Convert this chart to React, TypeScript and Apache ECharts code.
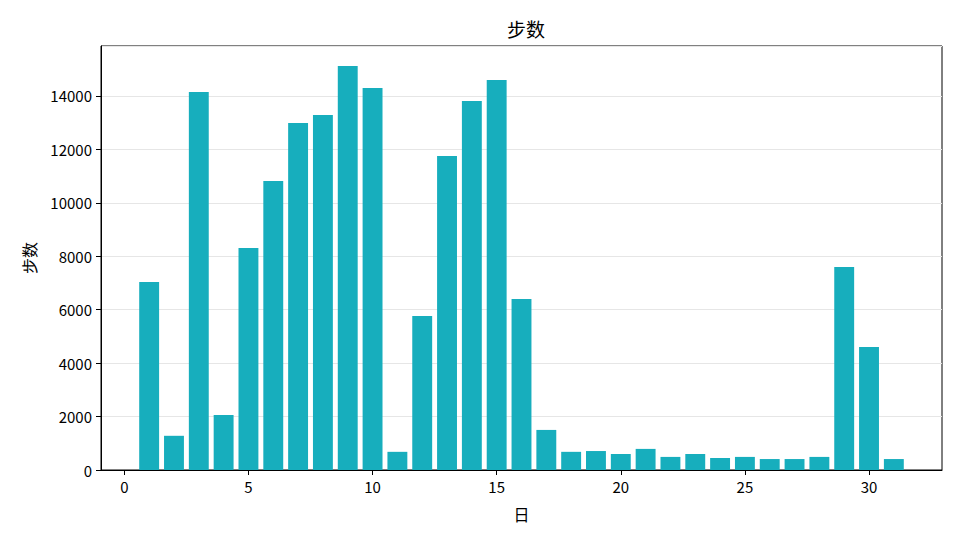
import { useRef, useEffect } from 'react'
import * as echarts from 'echarts'

const days = [
  1, 2, 3, 4, 5, 6, 7, 8, 9, 10, 11, 12, 13, 14, 15, 16,
  17, 18, 19, 20, 21, 22, 23, 24, 25, 26, 27, 28, 29, 30, 31,
]
const steps = [
  7040, 1280, 14150, 2060, 8310, 10820, 12990, 13290, 15120, 14300, 680, 5760,
  11750, 13810, 14600, 6400, 1500, 680, 710, 600, 790, 490, 600, 450, 490, 410,
  410, 490, 7600, 4600, 410,
]
const xTicks = [0, 5, 10, 15, 20, 25, 30]

const BAR_COLOR = '#17aebd'
const FONT = '"Noto Sans CJK SC", "Noto Sans", sans-serif'

export default function App() {
  const chartRef = useRef<HTMLDivElement>(null)

  useEffect(() => {
    if (!chartRef.current) return
    const chart = echarts.init(chartRef.current, undefined, { renderer: 'svg' })

    const option: echarts.EChartsOption = {
      animation: false,
      textStyle: { fontFamily: FONT },
      title: {
        text: '步数',
        left: 521,
        top: 14,
        textAlign: 'center',
        textStyle: { fontFamily: FONT, fontSize: 19, fontWeight: 'normal', color: '#000' },
      },
      grid: {
        left: 101,
        right: 18,
        top: 46,
        bottom: 70,
        show: true,
        borderColor: '#000',
        borderWidth: 1,
        backgroundColor: 'transparent',
      },
      xAxis: {
        type: 'value',
        min: -0.94,
        max: 32.94,
        name: '日',
        nameLocation: 'middle',
        nameGap: 36,
        nameTextStyle: { fontFamily: FONT, fontSize: 16, color: '#000' },
        axisLine: { show: true, lineStyle: { color: '#000', width: 1 } },
        axisTick: { show: true, length: 5, lineStyle: { color: '#000' }, customValues: xTicks },
        axisLabel: { customValues: xTicks, margin: 9, fontSize: 15, color: '#000', fontFamily: FONT },
        splitLine: { show: false },
      },
      yAxis: {
        type: 'value',
        min: 0,
        max: 15871,
        interval: 2000,
        name: '步数',
        nameLocation: 'middle',
        nameGap: 64,
        nameRotate: 90,
        nameTextStyle: { fontFamily: FONT, fontSize: 16, color: '#000' },
        axisLine: { show: true, onZero: false, lineStyle: { color: '#000', width: 1 } },
        axisTick: { show: true, length: 5, lineStyle: { color: '#000' } },
        axisLabel: {
          margin: 9,
          fontSize: 15,
          color: '#000',
          fontFamily: FONT,
          showMaxLabel: false,
          formatter: (v: number) => String(v),
        },
        splitLine: { show: true, lineStyle: { color: '#e6e6e6', width: 1 } },
      },
      series: [
        {
          type: 'bar',
          data: days.map((d, i) => [d, steps[i]]),
          barWidth: 19.9,
          itemStyle: { color: BAR_COLOR },
        },
      ],
    }

    chart.setOption(option)
    return () => {
      chart.dispose()
    }
  }, [])

  return (
    <div
      ref={chartRef}
      style={{ position: 'fixed', left: 0, top: 0, width: 960, height: 540, background: '#fff' }}
    />
  )
}
